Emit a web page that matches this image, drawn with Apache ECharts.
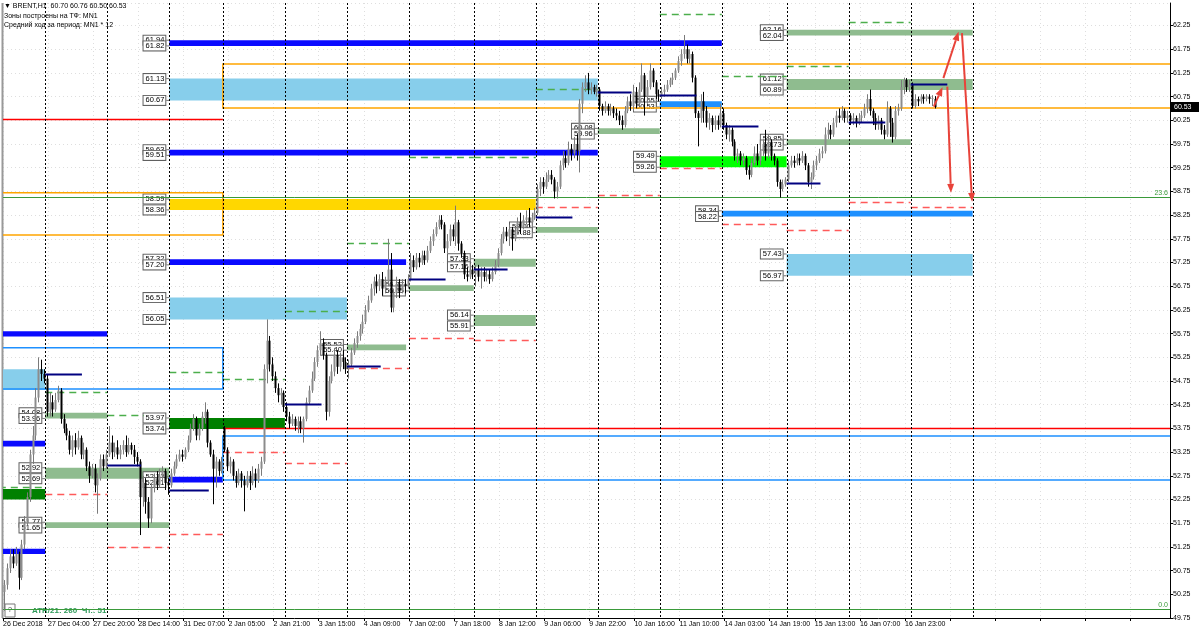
<!DOCTYPE html>
<html><head><meta charset="utf-8">
<script src="https://cdn.jsdelivr.net/npm/echarts@6/dist/echarts.min.js"></script>
<style>html,body{margin:0;padding:0;background:#fff}#c{width:1200px;height:635px}</style>
</head><body><div id="c"></div>
<script>
// ---------- DATA ----------
const timeLabels = ['26 Dec 2018','27 Dec 04:00','27 Dec 20:00','28 Dec 14:00','31 Dec 07:00','2 Jan 05:00','2 Jan 21:00','3 Jan 15:00','4 Jan 09:00','7 Jan 02:00','7 Jan 18:00','8 Jan 12:00','9 Jan 06:00','9 Jan 22:00','10 Jan 16:00','11 Jan 10:00','14 Jan 03:00','14 Jan 19:00','15 Jan 13:00','16 Jan 07:00','16 Jan 23:00'];
const barsPerLabel = 16;
const totalSlots = 414;
// H1 candles: [open, close, low, high]
const candles = [
[50.30,50.45,49.90,50.55],[50.45,50.80,50.35,50.90],[50.80,51.05,50.70,51.20],[51.05,50.90,50.80,51.20],[50.90,51.10,50.85,51.25],
[51.10,50.60,50.35,51.15],[50.60,51.30,50.55,51.40],[51.30,51.75,51.20,51.90],[51.75,52.30,51.70,52.40],[52.30,53.20,52.20,53.30],
[53.20,53.60,53.00,53.80],[53.60,54.40,53.50,54.60],[54.40,55.00,54.30,55.25],[55.00,54.90,54.75,55.20],[54.90,54.80,54.70,55.00],
[54.80,54.10,54.00,54.90],[54.10,54.30,54.00,54.50],[54.30,54.15,54.00,54.45],[54.15,54.35,54.10,54.50],[54.35,54.55,54.30,54.65],
[54.55,53.95,53.85,54.60],[53.95,53.75,53.65,54.05],[53.75,53.60,53.50,53.85],[53.60,53.30,53.20,53.70],[53.30,53.50,53.15,53.60],
[53.50,53.35,53.20,53.65],[53.35,53.55,53.30,53.70],[53.55,53.20,53.10,53.60],[53.20,53.30,53.10,53.45],[53.30,52.95,52.85,53.35],
[52.95,52.75,52.60,53.05],[52.75,52.90,52.70,53.00],[52.90,52.55,52.40,53.00],[52.55,52.70,51.95,52.80],[52.70,53.10,52.65,53.20],
[53.10,52.95,52.85,53.20],[52.95,53.20,52.90,53.30],[53.20,53.45,53.15,53.80],[53.45,53.25,53.10,53.60],[53.25,53.35,53.15,53.45],
[53.35,53.20,53.10,53.50],[53.20,53.30,53.10,53.40],[53.30,53.40,53.20,53.50],[53.40,53.25,53.15,53.60],[53.25,53.40,53.20,53.55],
[53.40,53.30,53.20,53.45],[53.30,53.15,53.00,53.40],[53.15,53.05,52.95,53.25],[53.05,52.30,51.50,53.10],[52.30,52.60,52.10,52.75],
[52.60,52.20,51.95,52.70],[52.20,51.85,51.65,52.30],[51.85,52.50,51.75,52.60],[52.50,52.70,52.40,52.80],[52.70,52.55,52.45,52.85],
[52.55,52.75,52.50,52.90],[52.75,52.85,52.60,52.95],[52.85,52.60,52.45,52.90],[52.60,52.55,52.35,52.70],[52.55,52.80,52.50,52.90],
[52.80,52.95,52.75,53.05],[52.95,53.10,52.90,53.20],[53.10,53.20,53.05,53.30],[53.20,53.15,53.05,53.30],[53.15,53.30,53.10,53.35],
[53.30,53.50,53.25,53.60],[53.50,53.75,53.45,53.85],[53.75,53.95,53.70,54.05],[53.95,53.60,53.50,54.00],[53.60,53.75,53.50,53.85],
[53.75,54.00,53.70,54.10],[54.00,54.10,53.85,54.30],[54.10,53.45,53.35,54.15],[53.45,53.20,53.15,53.50],[53.20,52.90,52.15,53.30],
[52.90,53.05,52.50,53.15],[53.05,52.85,52.75,53.10],[52.85,53.05,52.80,53.15],[53.75,53.30,53.25,53.80],[53.30,52.95,52.85,53.35],
[52.95,53.05,52.80,53.15],[53.05,52.75,52.65,53.10],[52.75,52.60,52.50,52.85],[52.60,52.80,52.55,52.90],[52.80,52.65,52.50,52.85],
[52.65,52.55,52.00,52.75],[52.55,52.75,52.50,52.85],[52.75,52.60,52.45,52.85],[52.60,52.80,52.55,52.95],[52.80,52.65,52.50,52.90],
[52.65,52.90,52.60,53.00],[52.90,53.05,52.75,53.15],[53.05,55.00,53.00,55.10],[55.00,55.60,54.70,56.05],[55.60,55.10,54.95,55.70],
[55.10,54.85,54.75,55.25],[54.85,54.60,54.50,54.95],[54.60,54.45,54.30,54.70],[54.45,54.50,54.25,54.60],[54.50,54.20,54.10,54.55],
[54.20,54.00,53.90,54.30],[54.00,53.85,53.75,54.10],[53.85,53.95,53.80,54.05],[53.95,53.80,53.70,54.00],[53.80,53.90,53.65,54.00],
[53.90,53.75,53.65,54.00],[53.75,53.95,53.45,54.00],[53.95,54.30,53.90,54.40],[54.30,54.55,54.25,54.65],[54.55,54.80,54.50,54.95],
[54.80,55.15,54.75,55.25],[55.15,55.40,55.05,55.50],[55.40,55.55,55.30,55.80],[55.55,55.30,55.20,55.65],[55.30,54.10,53.92,55.35],
[54.10,54.75,54.00,54.85],[54.75,54.95,54.70,55.10],[54.95,55.30,54.85,55.45],[55.30,55.05,54.90,55.40],[55.05,55.25,54.95,55.35],
[55.25,55.15,55.00,55.40],[55.15,55.00,54.90,55.25],[55.00,55.10,54.80,55.20],[55.10,55.35,55.05,55.45],[55.35,55.55,55.30,55.65],
[55.55,55.70,55.45,55.80],[55.70,55.85,55.60,55.95],[55.85,56.00,55.75,56.15],[56.00,56.25,55.95,56.35],[56.25,56.45,56.20,56.55],
[56.45,56.70,56.40,56.80],[56.70,56.85,56.55,56.95],[56.85,56.75,56.60,57.00],[56.75,56.90,56.65,57.00],[56.90,56.70,56.55,57.05],
[56.70,56.85,56.60,56.95],[56.85,57.10,56.75,57.75],[57.10,56.30,56.20,57.45],[56.30,56.60,56.20,56.70],[56.60,56.80,56.50,56.95],
[56.80,56.65,56.50,56.90],[56.65,56.80,56.60,56.90],[56.80,56.75,56.60,56.90],[56.75,56.90,56.70,57.00],[56.90,57.30,56.85,57.45],
[57.30,57.15,57.05,57.40],[57.15,57.35,57.10,57.45],[57.35,57.25,57.15,57.45],[57.25,57.40,57.20,57.50],[57.40,57.30,57.20,57.50],
[57.30,57.50,57.25,57.60],[57.50,57.70,57.45,57.80],[57.70,57.85,57.60,57.95],[57.85,58.00,57.80,58.10],[58.00,58.15,57.95,58.25],
[58.15,58.05,57.95,58.25],[58.05,57.55,57.45,58.10],[57.55,57.70,57.45,57.85],[57.70,57.95,57.60,58.05],[57.95,57.80,57.70,58.05],
[57.80,58.10,57.60,58.45],[58.10,57.65,57.50,58.15],[57.65,57.45,57.35,57.70],[57.45,57.00,56.90,57.50],[57.00,56.95,56.85,57.15],
[56.95,57.10,56.90,57.20],[57.10,57.00,56.90,57.20],[57.00,57.10,56.75,57.20],[57.10,56.95,56.85,57.20],[56.95,57.05,56.70,57.15],
[57.05,56.95,56.85,57.15],[56.95,57.00,56.85,57.10],[57.00,56.90,56.80,57.10],[56.90,57.05,56.85,57.15],[57.05,57.20,57.00,57.30],
[57.20,57.45,57.15,57.55],[57.45,57.75,57.40,57.85],[57.75,57.90,57.65,58.00],[57.90,57.80,57.70,58.00],[57.80,57.95,57.60,58.05],
[57.95,57.75,57.50,58.00],[57.75,57.90,57.70,58.00],[57.90,58.10,57.85,58.20],[58.10,58.00,57.85,58.30],[58.00,58.15,57.95,58.25],
[58.15,58.20,58.05,58.35],[58.20,58.10,58.00,58.40],[58.10,58.20,58.05,58.30],[58.20,58.30,58.15,58.40],[58.30,58.80,58.25,58.90],
[58.80,58.95,58.65,59.05],[58.95,58.85,58.70,59.05],[58.85,59.00,58.80,59.15],[59.00,59.10,58.95,59.20],[59.10,59.00,58.90,59.20],
[59.00,58.75,58.60,59.05],[58.75,58.85,58.60,58.95],[58.85,59.30,58.80,59.40],[59.30,59.45,59.20,59.60],[59.45,59.35,59.25,59.60],
[59.35,59.65,59.30,59.80],[59.65,59.55,59.40,59.75],[59.55,59.75,59.45,59.90],[59.75,59.60,59.40,59.95],[59.60,60.60,59.15,60.70],
[60.60,60.95,60.40,61.05],[60.95,61.05,60.85,61.20],[61.05,60.90,60.80,61.25],[60.90,60.95,60.80,61.05],[60.95,60.85,60.80,61.00],
[60.85,60.90,60.75,61.00],[60.90,60.55,60.45,60.95],[60.55,60.45,60.35,60.60],[60.45,60.55,60.40,60.65],[60.55,60.45,60.35,60.60],
[60.45,60.50,60.35,60.60],[60.50,60.40,60.30,60.55],[60.40,60.35,60.25,60.50],[60.35,60.25,60.15,60.45],[60.25,60.15,60.05,60.35],
[60.15,60.45,60.10,60.55],[60.45,60.65,60.40,60.75],[60.65,60.55,60.45,60.80],[60.55,60.85,60.45,61.00],[60.85,60.60,60.50,60.95],
[60.60,60.90,60.55,61.05],[60.90,61.20,60.85,61.45],[61.20,60.75,60.35,61.25],[60.75,60.95,60.60,61.10],[60.95,61.30,60.90,61.45],
[61.30,61.05,60.95,61.35],[61.05,60.80,60.70,61.10],[60.80,60.75,60.65,60.90],[60.75,60.85,60.70,60.95],[60.85,60.90,60.75,61.00],
[60.90,61.00,60.85,61.10],[61.00,61.10,60.95,61.15],[61.10,61.15,61.00,61.25],[61.15,61.30,61.10,61.35],[61.30,61.50,61.25,61.60],
[61.50,61.65,61.40,61.75],[61.65,61.75,61.55,62.05],[61.75,61.55,61.45,61.85],[61.55,61.65,61.45,61.75],[61.65,61.15,61.05,61.70],
[61.15,60.40,60.30,61.20],[60.40,60.30,59.70,60.45],[60.30,60.65,60.20,60.80],[60.65,60.45,60.20,60.85],[60.45,60.20,60.10,60.55],
[60.20,60.30,60.05,60.40],[60.30,60.15,60.00,60.35],[60.15,60.25,60.05,60.35],[60.25,60.15,60.05,60.35],[60.15,60.40,60.10,60.60],
[60.40,60.15,60.05,60.50],[60.15,59.95,59.85,60.20],[59.95,60.05,59.80,60.15],[60.05,59.80,59.70,60.10],[59.80,59.50,59.40,59.85],
[59.50,59.55,59.35,59.65],[59.55,59.40,59.30,59.60],[59.40,59.45,59.30,59.55],[59.45,59.20,59.10,59.50],[59.20,59.10,59.00,59.30],
[59.10,59.35,59.05,59.45],[59.35,59.55,59.30,59.70],[59.55,59.40,59.30,59.75],[59.40,59.60,59.30,59.70],[59.60,59.75,59.50,59.85],
[59.75,59.55,59.40,60.05],[59.55,59.80,59.45,59.95],[59.80,59.50,59.40,59.85],[59.50,59.40,59.30,59.55],[59.40,58.95,58.85,59.45],
[58.95,58.80,58.62,59.00],[58.80,58.90,58.75,59.00],[58.90,59.00,58.85,59.05],[59.00,59.30,58.95,59.40],[59.30,59.40,59.25,59.50],
[59.40,59.35,59.25,59.50],[59.35,59.45,59.30,59.55],[59.45,59.40,59.30,59.55],[59.40,59.50,59.35,59.60],[59.50,59.30,59.20,59.55],
[59.30,58.95,58.85,59.35],[58.95,59.05,58.80,59.15],[59.05,59.30,59.00,59.40],[59.30,59.40,59.20,59.50],[59.40,59.55,59.35,59.65],
[59.55,59.60,59.45,59.70],[59.60,59.95,59.55,60.10],[59.95,60.05,59.85,60.20],[60.05,59.95,59.85,60.15],[59.95,60.20,59.90,60.30],
[60.20,60.35,60.10,60.45],[60.35,60.30,60.20,60.50],[60.30,60.45,60.25,60.55],[60.45,60.30,60.20,60.50],[60.30,60.35,60.20,60.45],
[60.35,60.25,60.15,60.40],[60.25,60.30,60.15,60.40],[60.30,60.20,60.10,60.35],[60.20,60.30,60.15,60.40],[60.30,60.35,60.20,60.45],
[60.35,60.50,60.30,60.60],[60.50,60.70,60.40,60.80],[60.70,60.45,60.35,60.90],[60.45,60.30,60.15,60.50],[60.30,60.15,60.05,60.40],
[60.15,60.25,60.05,60.35],[60.25,60.05,59.95,60.30],[60.05,59.95,59.85,60.15],[59.95,60.50,59.90,60.65],[60.50,60.20,59.90,60.55],
[60.20,59.90,59.78,60.30],[59.90,60.45,59.85,60.55],[60.45,60.50,60.35,60.60],[60.50,60.95,60.45,61.10],[60.95,61.10,60.80,61.15],
[61.10,60.95,60.85,61.14],[60.95,61.00,60.85,61.10],[61.00,60.55,60.50,61.05],[60.55,60.70,60.50,60.80],[60.70,60.65,60.55,60.75],
[60.65,60.75,60.60,60.80],[60.75,60.70,60.60,60.80],[60.70,60.75,60.65,60.80],[60.75,60.70,60.60,60.80],[60.70,60.72,60.55,60.78],
[60.70,60.53,60.50,60.76]
];
const daySeparators = [15,37,59,78,100,122,144,167,189,211,233,255,278,300,322,344];
// zones: [startBar, endBar, high, low, showLabels]
const blueZones = [[59,255,61.94,61.82,1],[59,211,59.63,59.51,1],[59,143,57.32,57.20,1],[59,78,52.73,52.61,1],[-10,37,55.80,55.69,0],[-10,15,53.49,53.37,0],[-10,15,51.21,51.10,0]];
const skyZones = [[59,211,61.13,60.67,1],[59,122,56.51,56.05,1],[278,344,57.43,56.97,1],[-10,15,55.00,54.56,0]];
const dodgerZones = [[233,255,60.65,60.53,1],[255,344,58.34,58.22,1]];
const sageZones = [[278,344,62.16,62.04,1],[278,344,61.12,60.89,1],[278,322,59.85,59.73,1],[211,233,60.08,59.96,1],[189,211,58.00,57.88,1],[167,189,57.33,57.16,1],[144,167,56.77,56.65,1],[167,189,56.14,55.91,1],[122,143,55.52,55.40,1],[15,37,54.08,53.96,1],[15,59,52.92,52.69,1],[15,59,51.77,51.65,1]];
const darkGreenZones = [[59,100,53.97,53.74,1],[-10,15,52.47,52.25,0]];
const limeZones = [[233,278,59.49,59.26,1]];
const goldZones = [[59,189,58.59,58.36,1]];
// short lines: [startBar, endBar, price]
const navyLines = [[15,28,54.90],[37,49,52.98],[59,73,52.45],[100,113,54.27],[122,134,55.07],[144,157,56.90],[167,179,57.12],[189,202,58.21],[211,223,60.85],[233,246,60.78],[255,268,60.13],[278,290,58.92],[300,313,60.21],[322,335,61.02]];
const greenDashLines = [[233,255,62.49],[300,322,62.32],[255,278,61.19],[278,300,61.40],[189,211,60.91],[144,167,59.47],[167,189,59.47],[122,144,57.66],[100,122,56.22],[59,78,54.93],[78,100,54.79],[15,37,54.52],[37,50,54.03],[-10,15,52.51]];
const redDashLines = [[15,37,52.37],[37,59,51.25],[59,78,51.52],[78,100,53.25],[100,122,53.02],[122,144,55.02],[144,167,55.66],[167,189,55.61],[189,211,58.42],[211,233,58.67],[233,255,59.24],[255,278,58.06],[278,300,57.93],[300,322,58.53],[322,344,58.42]];
const redLines = [[-10,78,60.28],[78,430,53.76]];
// range boxes: [startBar, endBar, high, low]
const orangeBoxes = [[-10,78,58.72,57.83],[78,430,61.44,60.51]];
const blueBoxes = [[-10,78,55.45,54.58],[78,430,53.59,52.66]];
const fibLevels = [[58.63,'23.6'],[49.93,'0.0']];
// arrows: [barFrom, priceFrom, barTo, priceTo]
const arrows = [[329.7,60.54,332.8,60.95],[333.1,61.14,338.5,62.12],[334.5,60.96,335.8,58.72],[339.7,62.09,343.3,58.53]];
const header = ['\u25BC BRENT,H1  60.70 60.76 60.50 60.53','Зоны построены на ТФ: MN1','Средний ход за период: MN1 * 12'];
const lastPrice = 60.53;
const atrText = 'ATR/21: 260  Чт.: 51';

// ---------- CHART ----------
const chart = echarts.init(document.getElementById('c'), null, {renderer:'canvas'});
const FONT = '"Liberation Sans", Arial, sans-serif';

function zoneSeries(list, color){
  return {type:'custom', clip:true, z:2, silent:true,
    data:list.map(r=>[r[0]-0.5, r[1]-0.5, r[2], r[3], r[4]]),
    encode:{x:[0,1], y:[2,3]},
    renderItem:(p, api)=>{
      const a = api.coord([api.value(0), api.value(2)]);
      const b = api.coord([api.value(1), api.value(3)]);
      const ch = [{type:'rect', shape:{x:a[0], y:a[1], width:b[0]-a[0], height:b[1]-a[1]}, style:{fill:color}}];
      if (api.value(4)) {
        [[a[1], api.value(2)], [b[1], api.value(3)]].forEach(([y, v])=>{
          ch.push({type:'line', shape:{x1:a[0]-3, y1:y, x2:a[0], y2:y}, style:{stroke:'#777', lineWidth:1}});
          ch.push({type:'text', style:{text:v.toFixed(2), x:a[0]-4, y:y, align:'right', verticalAlign:'middle',
            font:'7.5px '+FONT, fill:'#000', backgroundColor:'#fff', borderColor:'#606060', borderWidth:1, padding:[1,1,0,2]}});
        });
      }
      return {type:'group', children:ch};
    }};
}
function lineSeries(list, color, width, dash, z){
  return {type:'custom', clip:true, z:z||3, silent:true,
    data:list.map(r=>[r[0]-0.5, r[1]-0.5, r[2]]),
    encode:{x:[0,1], y:2},
    renderItem:(p, api)=>{
      const a = api.coord([api.value(0), api.value(2)]);
      const b = api.coord([api.value(1), api.value(2)]);
      return {type:'line', shape:{x1:a[0], y1:Math.round(a[1])+0.5, x2:b[0], y2:Math.round(a[1])+0.5},
        style:{stroke:color, lineWidth:width, lineDash:dash||null}};
    }};
}
function boxSeries(list, color){
  return {type:'custom', clip:true, z:3, silent:true,
    data:list.map(r=>[r[0]-0.5, r[1]-0.5, r[2], r[3]]),
    encode:{x:[0,1], y:[2,3]},
    renderItem:(p, api)=>{
      const a = api.coord([api.value(0), api.value(2)]);
      const b = api.coord([api.value(1), api.value(3)]);
      return {type:'rect', shape:{x:a[0], y:a[1], width:b[0]-a[0], height:b[1]-a[1]}, style:{fill:null, stroke:color, lineWidth:1.5}};
    }};
}

const candleSeries = {type:'custom', clip:true, z:5, silent:true,
  data:candles.map((c,i)=>[i, c[0], c[1], c[2], c[3]]),
  encode:{x:0, y:[1,2,3,4]},
  renderItem:(p, api)=>{
    const i = api.value(0), o = api.value(1), c = api.value(2), l = api.value(3), h = api.value(4);
    const pO = api.coord([i,o]), pC = api.coord([i,c]), pL = api.coord([i,l]), pH = api.coord([i,h]);
    const xr = Math.round(pO[0]);
    const up = c >= o;
    const col = up ? '#8c8c8c' : '#000';
    const top = Math.min(pO[1], pC[1]), bot = Math.max(pO[1], pC[1]);
    return {type:'group', children:[
      {type:'line', shape:{x1:xr+0.5, y1:pH[1], x2:xr+0.5, y2:pL[1]}, style:{stroke:up?'#7a7a7a':'#000', lineWidth:1}},
      {type:'rect', shape:{x:xr-0.5, y:top, width:2, height:Math.max(1, bot-top)}, style:{fill:col}}
    ]};
  }};

const sepSeries = {type:'custom', clip:true, z:4, silent:true,
  data:daySeparators.map(k=>[k-0.5]),
  encode:{x:0},
  renderItem:(p, api)=>{
    const x = Math.round(api.coord([api.value(0), 50])[0]) + 0.5;
    const cs = p.coordSys;
    return {type:'line', shape:{x1:x, y1:cs.y, x2:x, y2:cs.y+cs.height}, style:{stroke:'#000', lineWidth:1, lineDash:[2,2]}};
  }};

const fibSeries = {type:'custom', clip:false, z:3, silent:true,
  data:fibLevels.map(f=>[f[0]]),
  encode:{y:0},
  renderItem:(p, api)=>{
    const cs = p.coordSys;
    const y = Math.round(api.coord([0, api.value(0)])[1]) + 0.5;
    return {type:'group', children:[
      {type:'line', shape:{x1:cs.x, y1:y, x2:cs.x+cs.width, y2:y}, style:{stroke:'#3a9a3a', lineWidth:1}},
      {type:'text', style:{text:fibLevels[p.dataIndex][1], x:cs.x+cs.width-2, y:y-1, align:'right', verticalAlign:'bottom', font:'7px '+FONT, fill:'#3a9a3a'}}
    ]};
  }};

const arrowSeries = {type:'custom', clip:false, z:8, silent:true,
  data:arrows,
  encode:{x:[0,2], y:[1,3]},
  renderItem:(p, api)=>{
    const a = api.coord([api.value(0), api.value(1)]);
    const b = api.coord([api.value(2), api.value(3)]);
    const ang = Math.atan2(b[1]-a[1], b[0]-a[0]);
    const L = 9, W = 3.5;
    const bx = b[0]-L*Math.cos(ang), by = b[1]-L*Math.sin(ang);
    const px = -Math.sin(ang)*W, py = Math.cos(ang)*W;
    return {type:'group', children:[
      {type:'line', shape:{x1:a[0], y1:a[1], x2:bx, y2:by}, style:{stroke:'#e8433a', lineWidth:2}},
      {type:'polygon', shape:{points:[[b[0],b[1]],[bx+px,by+py],[bx-px,by-py]]}, style:{fill:'#e8433a'}}
    ]};
  }};

const option = {
  animation:false,
  backgroundColor:'#fff',
  grid:{left:1, right:30, top:3, bottom:17, show:false},
  xAxis:{type:'value', min:-0.5, max:totalSlots-0.5, interval:barsPerLabel,
    axisLine:{show:true, onZero:false, lineStyle:{color:'#000', width:1}},
    axisTick:{show:true, length:3, lineStyle:{color:'#000'}},
    axisLabel:{show:true, margin:3, align:'left', fontSize:7, fontFamily:'Liberation Sans', color:'#000', showMaxLabel:false,
      formatter:v=>timeLabels[Math.round((v+0.5)/barsPerLabel)]||''},
    splitLine:{show:true, lineStyle:{color:'#dedede', type:[1,3]}}},
  yAxis:{type:'value', position:'right', min:49.75, max:62.725, interval:0.5,
    axisLine:{show:true, onZero:false, lineStyle:{color:'#000', width:1}},
    axisTick:{show:true, length:3, lineStyle:{color:'#000'}},
    axisLabel:{show:true, margin:3, fontSize:7, fontFamily:'Liberation Sans', color:'#000', showMaxLabel:false, formatter:v=>v.toFixed(2)},
    splitLine:{show:true, lineStyle:{color:'#dedede', type:[1,3]}}},
  series:[
    zoneSeries(skyZones, '#87ceeb'),
    zoneSeries(sageZones, '#8fbc8f'),
    zoneSeries(darkGreenZones, '#008000'),
    zoneSeries(limeZones, '#00ff00'),
    zoneSeries(goldZones, '#ffd700'),
    zoneSeries(dodgerZones, '#1e90ff'),
    zoneSeries(blueZones, '#0a0aff'),
    boxSeries(orangeBoxes, '#ffa500'),
    boxSeries(blueBoxes, '#1e90ff'),
    lineSeries(redLines, '#ff0000', 1.5),
    lineSeries(greenDashLines, '#4cae4c', 1.5, [7,5]),
    lineSeries(redDashLines, '#ff5a5a', 1.5, [7,5]),
    fibSeries,
    sepSeries,
    candleSeries,
    lineSeries(navyLines, '#000080', 2, null, 6),
    arrowSeries
  ]
};
chart.setOption(option);

const yLast = chart.convertToPixel({yAxisIndex:0}, lastPrice);
const g = [];
header.forEach((t,i)=>g.push({type:'text', left:4, top:3+i*9.5, style:{text:t, font:'7px '+FONT, fill:'#000'}}));
g.push({type:'rect', shape:{x:1171, y:Math.round(yLast)-5, width:28, height:10}, style:{fill:'#000'}});
g.push({type:'text', x:1174, y:Math.round(yLast), style:{text:lastPrice.toFixed(2), font:'7px '+FONT, fill:'#fff', verticalAlign:'middle'}});
g.push({type:'rect', shape:{x:5, y:604, width:10, height:13}, style:{fill:'#fff', stroke:'#777', lineWidth:1}});
g.push({type:'text', x:8, y:610.5, style:{text:'?', font:'7px '+FONT, fill:'#333', verticalAlign:'middle'}});
g.push({type:'text', x:32, y:611, style:{text:atrText, font:'bold 8px '+FONT, fill:'#2e9a5a', verticalAlign:'middle'}});
g.push({type:'line', shape:{x1:2.5, y1:3, x2:2.5, y2:618}, style:{stroke:'#999', lineWidth:2}});
chart.setOption({graphic:g});
</script>
</body></html>
